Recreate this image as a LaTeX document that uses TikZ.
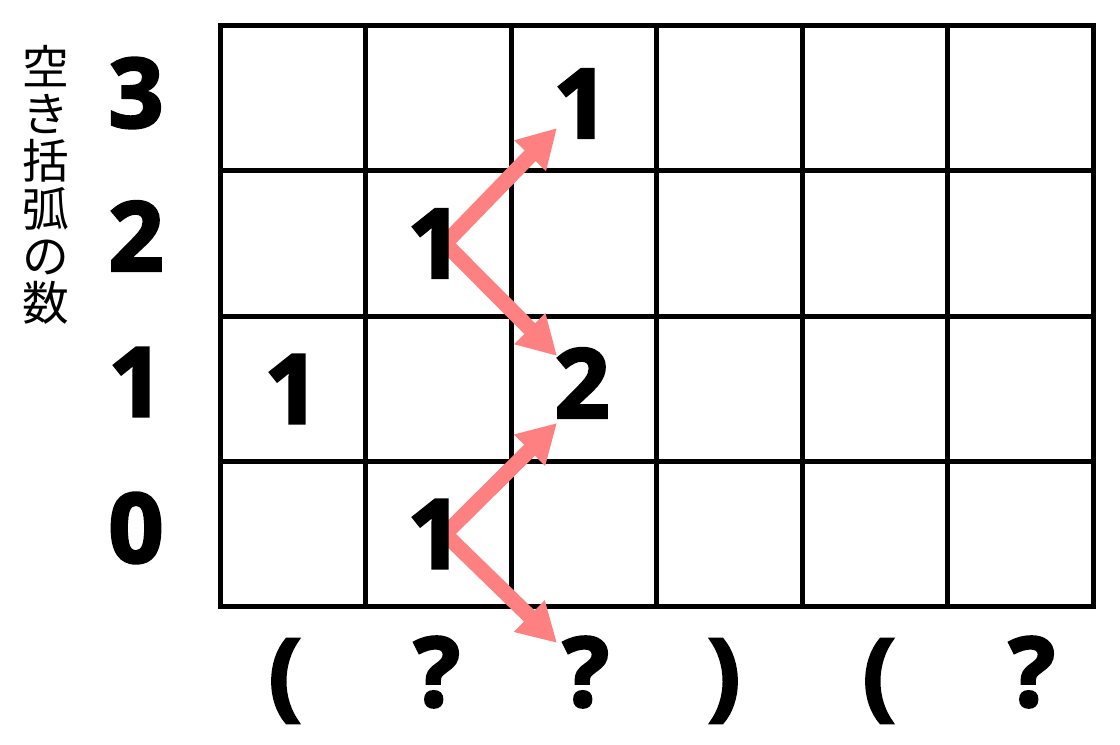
\documentclass[tikz,border=0pt]{standalone}
\usepackage{fontspec}
\usetikzlibrary{arrows.meta}
\newfontfamily\numfont{Open Sans}[BoldFeatures={FakeBold=3}]
\newfontfamily\cjkfont{Noto Sans CJK JP}
\definecolor{arrowpink}{RGB}{255,128,128}
\tikzset{
  gridline/.style={line width=3.75pt, line cap=rect},
  num/.style={inner sep=0pt, font=\numfont\bfseries\fontsize{72}{72}\selectfont},
  lbl/.style={inner sep=0pt, font=\numfont\bfseries\fontsize{72}{72}\selectfont},
  parr/.style={draw=arrowpink, line width=11.5pt, -{Triangle[length=29pt,width=31pt]}},
}
\begin{document}
\begin{tikzpicture}[x=0.75pt,y=-0.75pt]
\useasboundingbox (0,0) rectangle (1120,745);
% grid
\foreach \i in {0,...,6} {
  \draw[gridline] ({220.5+\i*145.42},26) -- ({220.5+\i*145.42},606);
}
\foreach \j in {0,...,4} {
  \draw[gridline] (220.5,{26+\j*145}) -- (1093,{26+\j*145});
}
% arrows
\coordinate (s2) at (445,243.5);
\coordinate (s0) at (445,534);
\coordinate (t3) at (557,128);
\coordinate (t1a) at (557,356);
\coordinate (t1b) at (557,423);
\coordinate (tq) at (557,643);
\draw[parr] (s2) -- (t3);
\draw[parr] (s2) -- (t1a);
\draw[parr] (s0) -- (t1b);
\draw[parr] (s0) -- (tq);
% cell numbers
\node[num] (c21) at (435,243.5) {1};
\node[num] (c32) at (581,103.5) {1};
\node[num] (c12) at (582,383) {2};
\node[num] (c01) at (435,534) {1};
\node[num] (c10) at (292,389) {1};
% row labels
\node[lbl] (r3) at (136,93) {3};
\node[lbl] (r2) at (136,236) {2};
\node[lbl] (r1) at (136,382) {1};
\node[lbl] (r0) at (136,528) {0};
% bottom labels
\node[lbl] (b0) at (285,681) {(};
\node[lbl] (b1) at (437,672) {?};
\node[lbl] (b2) at (586,672) {?};
\node[lbl] (b3) at (724,681) {)};
\node[lbl] (b4) at (879,681) {(};
\node[lbl] (b5) at (1032,672) {?};
% axis title
\node[inner sep=0pt, align=center, font=\cjkfont\fontsize{35}{35.5}\selectfont] (title) at (46,185) {空\\き\\括\\弧\\の\\数};
\end{tikzpicture}
\end{document}
